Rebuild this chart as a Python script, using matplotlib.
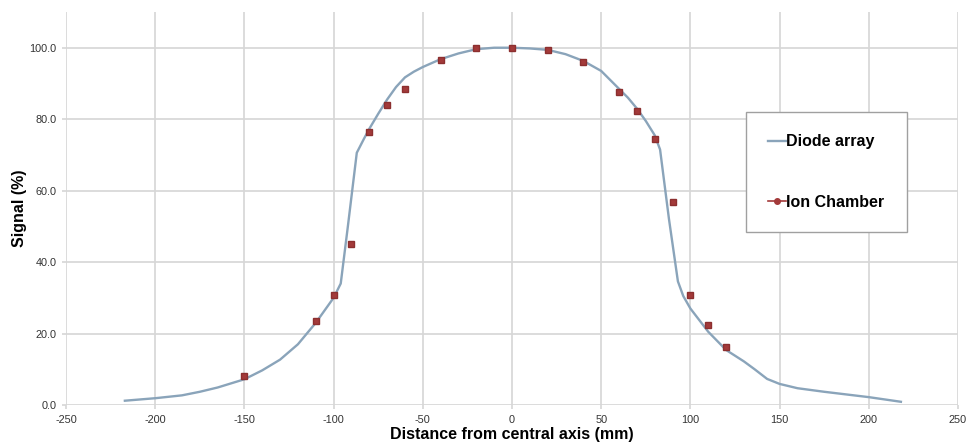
import numpy as np
import matplotlib
matplotlib.use("Agg")
import matplotlib.pyplot as plt
from matplotlib.lines import Line2D

plt.rcParams['font.family'] = ['Liberation Sans', 'DejaVu Sans']
plt.rcParams['axes.unicode_minus'] = False

# diode array profile (mm, %)
diode_x = [-217, -200, -185, -175, -165, -150, -140, -130, -120, -110, -100, -96, -92,
           -87, -83, -80, -75, -70, -65, -60, -55, -50, -40, -30, -20, -10, 0, 10,
           20, 30, 40, 50, 60, 65, 70, 75, 80, 83, 88, 93, 96, 100, 110, 120, 130,
           136, 143, 150, 160, 175, 200, 218]
diode_y = [1.2, 1.9, 2.7, 3.7, 4.9, 7.2, 9.7, 12.7, 17.0, 23.0, 30.0, 34.0, 50.0,
           70.6, 74.5, 77.3, 81.5, 85.5, 89.0, 91.7, 93.3, 94.6, 96.8, 98.4, 99.6, 100.0, 100.0, 99.8,
           99.4, 98.2, 96.3, 93.5, 88.5, 86.0, 83.0, 79.5, 75.5, 71.5, 52.0, 34.6, 30.5, 27.0, 20.5, 15.4, 12.2,
           10.0, 7.3, 5.9, 4.7, 3.7, 2.2, 0.9]

# ion chamber points
ion_x = [-150, -110, -100, -90, -80, -70, -60, -40, -20, 0, 20, 40, 60, 70, 80, 90, 100, 110, 120]
ion_y = [8.0, 23.6, 30.9, 45.2, 76.3, 83.9, 88.4, 96.5, 100.0, 100.0, 99.4, 96.1, 87.6, 82.4,
         74.5, 56.8, 30.7, 22.3, 16.1]

xticks = np.arange(-250, 251, 50)
yticks = np.arange(0, 101, 20)

line_col = '#8aa4ba'
ion_col = '#a33a3a'
grid_col = '#d6d6d6'

fig = plt.figure(figsize=(9.71, 4.45), dpi=100)
ax = fig.add_axes([66/971, 1 - 405/445, (958 - 66)/971, (405 - 12)/445])

ax.plot(diode_x, diode_y, color=line_col, lw=1.7, zorder=3)
ax.plot(ion_x, ion_y, ls='none', marker='s', ms=5, color=ion_col,
        mec='#8c2f2f', zorder=4)

ax.set_xlim(-250, 250)
ax.set_ylim(0, 110)
ax.set_xticks(xticks)
ax.set_yticks(yticks)
ax.set_yticklabels([f'{v:.1f}' for v in yticks])
ax.grid(True, color=grid_col, lw=1.2)
ax.set_axisbelow(True)
for s in ax.spines.values():
    s.set_visible(False)
ax.tick_params(length=3, color=grid_col, width=1.2, labelsize=7.8, labelcolor='#333333', pad=4)

ax.set_xlabel('Distance from central axis (mm)', fontsize=11.5, fontweight='bold', labelpad=2)
ax.set_ylabel('Signal (%)', fontsize=11.5, fontweight='bold', labelpad=1.5)

handles = [Line2D([], [], color=line_col, lw=1.7),
           Line2D([], [], color=ion_col, lw=1.2, marker='o', ms=4)]
leg = ax.legend(handles, ['Diode array', 'Ion Chamber'], loc='upper left',
                bbox_to_anchor=(0.762, 0.7455), borderaxespad=0, fancybox=False,
                edgecolor='#a0a0a0', framealpha=1, borderpad=1.4, labelspacing=2.85,
                handlelength=1.1, handletextpad=0.05,
                prop={'size': 11.5, 'weight': 'bold'})
leg.get_frame().set_linewidth(1.0)

fig.savefig('out.png', dpi=100)
